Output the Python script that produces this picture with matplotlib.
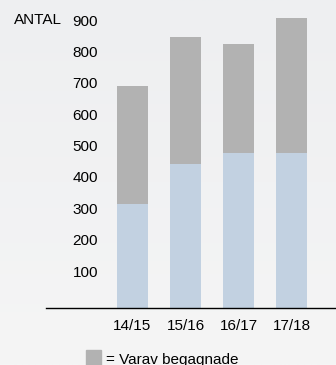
import numpy as np
import matplotlib.pyplot as plt
from matplotlib.patches import Rectangle

seasons = ['14/15', '15/16', '16/17', '17/18']
total = [708, 864, 841, 924]
used = [331, 460, 495, 495]
yticks = [100, 200, 300, 400, 500, 600, 700, 800, 900]

W, H = 336, 365
fig = plt.figure(figsize=(W / 100, H / 100), dpi=100)
plt.rcParams['font.family'] = ['Liberation Sans', 'DejaVu Sans']

# bakgrund med svag gradient
bg = fig.add_axes([0, 0, 1, 1], zorder=-1)
grad = np.linspace(0, 1, 256).reshape(-1, 1)
bg.imshow(grad, aspect='auto', cmap=plt.matplotlib.colors.LinearSegmentedColormap.from_list(
    'bg', ['#eeeff1', '#f5f5f5']), extent=[0, 1, 0, 1])
bg.axis('off')

# axlar i pixelmatt
left, right, base = 46, 336, 308
ax = fig.add_axes([left / W, (H - base) / H, (right - left) / W, base / H])
ax.patch.set_alpha(0)
px_per_unit = 31.375 / 100
ax.set_ylim(0, base / px_per_unit)
bar_w = 53
ax.set_xlim((left - 132.5) / bar_w, (right - 132.5) / bar_w)

x = np.arange(len(seasons))
ax.bar(x, used, width=31 / 53, color='#c2d1e1', zorder=2)
ax.bar(x, np.array(total) - np.array(used), bottom=used, width=31 / 53,
       color='#b2b2b2', zorder=2)

for s in ['top', 'right', 'left']:
    ax.spines[s].set_visible(False)
ax.spines['bottom'].set_linewidth(1.0)
ax.spines['bottom'].set_color('black')
ax.set_yticks([])
ax.set_xticks(x)
ax.set_xticklabels(seasons, fontsize=11)
ax.tick_params(axis='x', length=0, pad=8)

tr = ax.get_yaxis_transform()
lab_x = (98 - left) / (right - left)
for v in yticks:
    ax.text(lab_x, v, str(v), transform=tr, ha='right', va='baseline', fontsize=11)
fig.text(14 / W, 1 - 20 / H, 'ANTAL', fontsize=11, ha='left', va='center')

# legend (delvis utanfor bilden)
fig.patches.append(Rectangle((86 / W, 0), 15 / W, 15 / H, transform=fig.transFigure,
                             color='#b2b2b2'))
fig.text(106 / W, 1 - 360 / H, '= Varav begagnade', fontsize=11, ha='left', va='center')

fig.savefig('out.png', dpi=100)
